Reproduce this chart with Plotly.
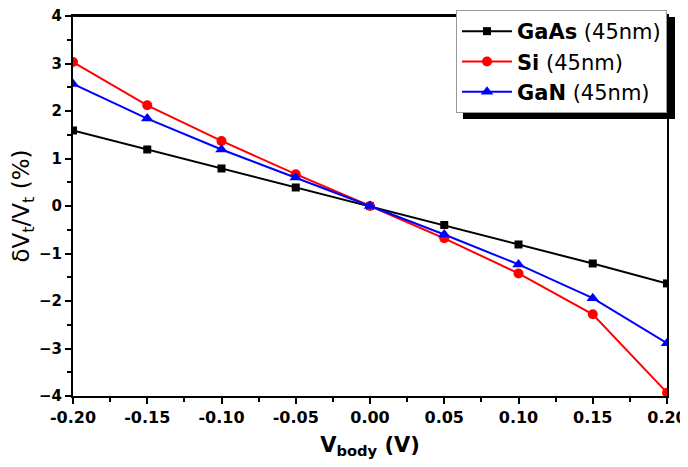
import plotly.graph_objects as go

v_body = [-0.20, -0.15, -0.10, -0.05, 0.00, 0.05, 0.10, 0.15, 0.20]
gaas = [1.59, 1.19, 0.79, 0.39, 0.0, -0.40, -0.81, -1.21, -1.63]
si = [3.03, 2.12, 1.37, 0.67, 0.0, -0.68, -1.42, -2.28, -3.93]
gan = [2.57, 1.84, 1.19, 0.60, 0.0, -0.60, -1.23, -1.94, -2.89]

x_ticks = [-0.20, -0.15, -0.10, -0.05, 0.00, 0.05, 0.10, 0.15, 0.20]
x_labels = ["-0.20", "-0.15", "-0.10", "-0.05", "0.00", "0.05", "0.10", "0.15", "0.20"]
y_ticks = [-4, -3, -2, -1, 0, 1, 2, 3, 4]

# page has an 8px body margin, so the figure is shifted by (8, 8)
OFF = 8
W, H = 688 - OFF, 467 - 2 * OFF
# desired plot area in page pixels
PL, PR, PT, PB = 73, 667, 16, 396
L, T = PL - OFF, PT - OFF
R, B = W - (PR - OFF), H - (PB - OFF)
pw, ph = PR - PL, PB - PT

def px2paper(x, y):
    return (x - PL) / pw, (PB - y) / ph

FONT = "DejaVu Sans"

fig = go.Figure()
fig.add_trace(go.Scatter(x=v_body, y=gaas, mode="lines+markers", name="<b>GaAs</b> (45nm)",
                         line=dict(color="black", width=2),
                         marker=dict(symbol="square", size=8, color="black")))
fig.add_trace(go.Scatter(x=v_body, y=si, mode="lines+markers", name="<b>Si</b> (45nm)",
                         line=dict(color="red", width=2),
                         marker=dict(symbol="circle", size=10, color="red")))
fig.add_trace(go.Scatter(x=v_body, y=gan, mode="lines+markers", name="<b>GaN</b> (45nm)",
                         line=dict(color="blue", width=2),
                         marker=dict(symbol="triangle-up", size=11, color="blue")))

# top frame line
ty = px2paper(0, 16)[1]
fig.add_shape(type="line", xref="paper", yref="paper", x0=-0.002, x1=1.002, y0=ty, y1=ty,
              line=dict(color="black", width=2), layer="above")

# legend drop shadow
sx0, sy1 = px2paper(463, 17)
sx1, sy0 = px2paper(675, 119)
fig.add_shape(type="rect", xref="paper", yref="paper", x0=sx0, x1=sx1, y0=sy0, y1=sy1,
              fillcolor="black", line=dict(width=0), layer="above")

lx, ly = px2paper(456, 10)
fig.update_layout(
    width=W, height=H,
    margin=dict(l=L, r=R, t=T, b=B, autoexpand=False),
    paper_bgcolor="white", plot_bgcolor="white",
    font=dict(family=FONT, color="black"),
    showlegend=True,
    legend=dict(x=lx, y=ly, xanchor="left", yanchor="top",
                bgcolor="white", bordercolor="#999999", borderwidth=1,
                font=dict(size=21, family=FONT, color="black"),
                tracegroupgap=0, itemwidth=50),
    xaxis=dict(range=[-0.2, 0.2], tickvals=x_ticks, ticktext=x_labels,
               showgrid=False, zeroline=False, automargin=False, ticklabeloverflow="allow",
               showline=True, linecolor="black", linewidth=2, mirror=True,
               ticks="outside", ticklen=6, tickwidth=2, tickcolor="black",
               minor=dict(ticks="outside", ticklen=4, tickwidth=2, tickcolor="black", dtick=0.025, showgrid=False),
               tickfont=dict(size=16, family=FONT, weight="bold"),
               title=dict(text="<b>V<sub>body</sub> (V)</b>", font=dict(size=21, family=FONT), standoff=14)),
    yaxis=dict(range=[-4, 4], tickvals=y_ticks,
               showgrid=False, zeroline=False, automargin=False, ticklabeloverflow="allow",
               showline=True, linecolor="black", linewidth=2, mirror=True,
               ticks="outside", ticklen=6, tickwidth=2, tickcolor="black",
               minor=dict(ticks="outside", ticklen=4, tickwidth=2, tickcolor="black", dtick=0.5, showgrid=False),
               tickfont=dict(size=15, family=FONT, weight="bold"),
               title=dict(text="δV<sub>t</sub>/V<sub>t</sub> (%)", font=dict(size=23, family=FONT), standoff=9)),
)

fig.write_html("out.html", config={"displayModeBar": False})
